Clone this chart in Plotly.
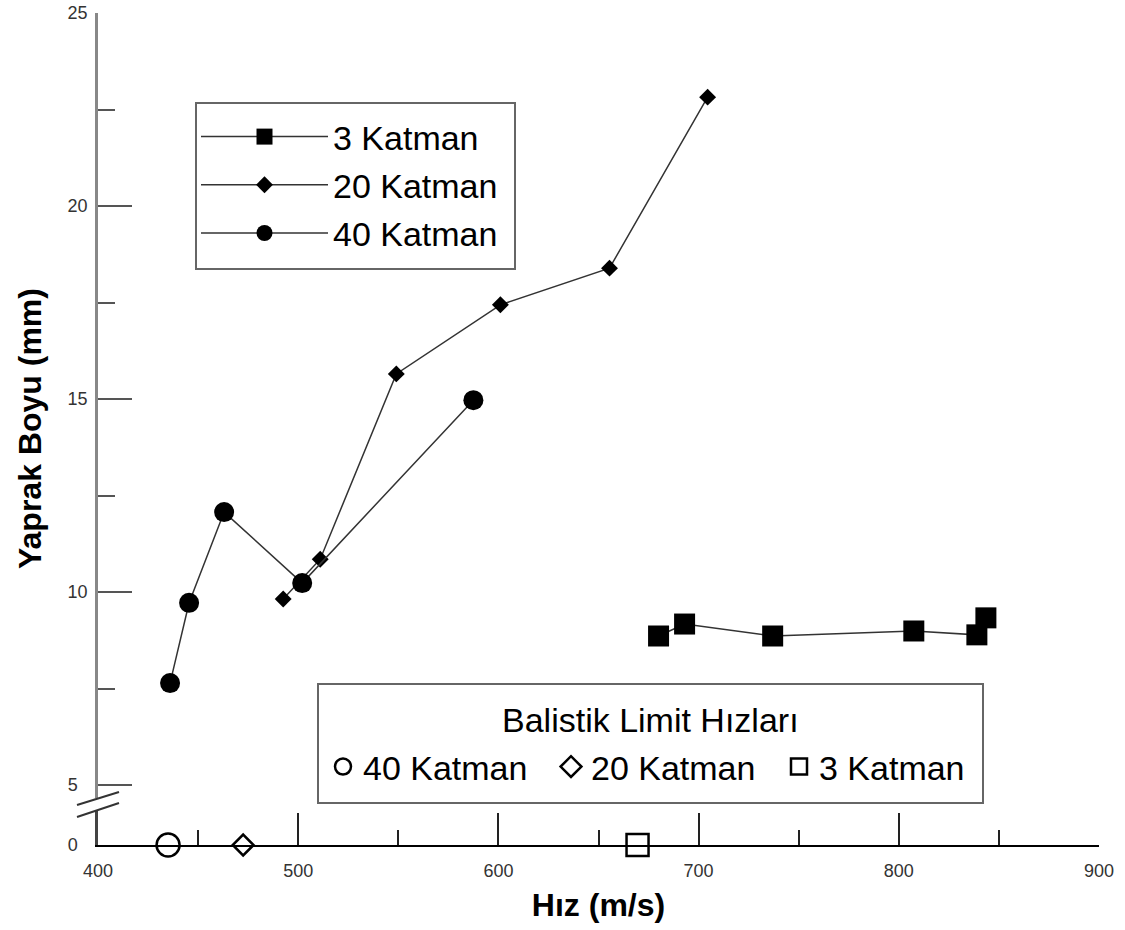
import plotly.graph_objects as go

# ---- data ----
x3 = [680, 693, 737, 807.5, 839, 843.5]
y3 = [8.86, 9.17, 8.86, 8.99, 8.89, 9.33]
x20 = [492.5, 511, 549, 601, 655.5, 704.5]
y20 = [9.82, 10.85, 15.65, 17.44, 18.39, 22.82]
x40 = [436, 445.5, 463, 502, 587.5]
y40 = [7.64, 9.72, 12.07, 10.23, 14.97]
bl_names = ["40 Katman", "20 Katman", "3 Katman"]
bl_x = [435, 472.5, 669.5]
bl_y = [0, 0, 0]
bl_symbols = ["circle-open", "diamond-open", "square-open"]
bl_sizes = [23, 16, 22]
bl_title = "Balistik Limit Hızları"

x_ticks = [400, 500, 600, 700, 800, 900]
x_minor = [450, 550, 650, 750, 850]
y_ticks = [5, 10, 15, 20, 25]
y_ticktext = ["5\u00a0\u00a0", "10", "15", "20", "25"]
y_minor = [7.5, 12.5, 17.5, 22.5]

# ---- layout geometry (reference pixels) ----
W, H = 1125, 930
REF_L, REF_R, REF_T, REF_B = 98, 1099, 13, 845   # plot-area edges
L, T = REF_L, REF_T
R, B = W - REF_R, H - REF_B
PW, PH = REF_R - REF_L, REF_B - REF_T


def px(xpix):
    return (xpix - REF_L) / PW


def py(ypix):
    return (REF_B - ypix) / PH


top_bottom_pix = 798
upp = 38.6  # pixels per unit on the upper axis
top_range = [25 - (top_bottom_pix - REF_T) / upp, 25.0001]
low_top_pix = 811

FONT = "Liberation Sans, Arial, sans-serif"
LINE_C = "#333333"

fig = go.Figure()

fig.add_trace(go.Scatter(
    x=x3, y=y3, name="3 Katman", mode="lines+markers",
    line=dict(color=LINE_C, width=1.5),
    marker=dict(symbol="square", size=21, color="black"),
    legend="legend", legendgroup="a", xaxis="x", yaxis="y"))
fig.add_trace(go.Scatter(
    x=x20, y=y20, name="20 Katman", mode="lines+markers",
    line=dict(color=LINE_C, width=1.5),
    marker=dict(symbol="diamond", size=13, color="black"),
    legend="legend", legendgroup="b", xaxis="x", yaxis="y"))
fig.add_trace(go.Scatter(
    x=x40, y=y40, name="40 Katman", mode="lines+markers",
    line=dict(color=LINE_C, width=1.5),
    marker=dict(symbol="circle", size=20, color="black"),
    legend="legend", legendgroup="c", xaxis="x", yaxis="y"))

for n, xv, yv, s, sz in zip(bl_names, bl_x, bl_y, bl_symbols, bl_sizes):
    fig.add_trace(go.Scatter(
        x=[xv], y=[yv], name=n, mode="markers",
        marker=dict(symbol=s, size=sz, color="black", line=dict(width=2.5, color="black")),
        cliponaxis=False, legend="legend2", xaxis="x", yaxis="y2"))

fig.update_layout(
    width=W, height=H,
    margin=dict(l=L, r=R, t=T, b=B, pad=0, autoexpand=False),
    paper_bgcolor="white", plot_bgcolor="white",
    font=dict(family=FONT, color="black"),
    showlegend=True,
    xaxis=dict(
        anchor="y2", range=[400, 900], domain=[0, 1], automargin=False,
        tickvals=x_ticks, ticks="inside", ticklen=32, tickwidth=1.5, tickcolor="#222",
        minor=dict(tickvals=x_minor, ticks="inside", ticklen=15, tickwidth=1.5, tickcolor="#222"),
        showline=True, linecolor="black", linewidth=2,
        showgrid=False, zeroline=False, ticklabeloverflow="allow",
        tickfont=dict(size=18, color="#333"), ticklabelstandoff=8,
        title=dict(text="Hız (m/s)", font=dict(size=32, weight="bold", color="black"), standoff=14),
    ),
    yaxis=dict(
        anchor="x", domain=[py(top_bottom_pix), 1], range=top_range, automargin=False,
        tickvals=y_ticks, ticktext=y_ticktext,
        ticks="inside", ticklen=34, tickwidth=1.5, tickcolor="#555",
        minor=dict(tickvals=y_minor, ticks="inside", ticklen=17, tickwidth=1.5, tickcolor="#555"),
        showline=True, linecolor="#888", linewidth=2.5,
        showgrid=False, zeroline=False, ticklabeloverflow="allow",
        tickfont=dict(size=18, color="#333"), ticklabelstandoff=4,
    ),
    yaxis2=dict(
        anchor="x", domain=[0, py(low_top_pix)], range=[0, 1], automargin=False,
        tickvals=[0], ticktext=["0\u00a0\u00a0"], ticks="",
        showline=True, linecolor="#444", linewidth=2.5,
        showgrid=False, zeroline=False, ticklabeloverflow="allow",
        tickfont=dict(size=18, color="#333"), ticklabelstandoff=4,
    ),
    legend=dict(
        x=px(196), y=py(108), xanchor="left", yanchor="top",
        borderwidth=0, bgcolor="rgba(0,0,0,0)",
        font=dict(size=34, color="black"), tracegroupgap=1, itemwidth=127,
    ),
    legend2=dict(
        orientation="h", x=px(323), y=py(738), xanchor="left", yanchor="top",
        borderwidth=0, bgcolor="rgba(0,0,0,0)",
        font=dict(size=34, color="black"), entrywidth=183,
    ),
    annotations=[
        dict(text="Yaprak Boyu (mm)", textangle=-90, xref="paper", yref="paper",
             x=px(30), y=py((REF_T + REF_B) / 2), xanchor="center", yanchor="middle", showarrow=False,
             font=dict(size=32, weight="bold", color="black")),
        dict(text=bl_title, xref="paper", yref="paper",
             x=px(650), y=py(720), xanchor="center", yanchor="middle", showarrow=False,
             font=dict(size=34, color="black")),
    ],
    shapes=[
        dict(type="rect", xref="paper", yref="paper", x0=px(196), y0=py(269), x1=px(515), y1=py(103),
             line=dict(color="#666", width=2), fillcolor="white", layer="above"),
        dict(type="rect", xref="paper", yref="paper", x0=px(318), y0=py(803), x1=px(983), y1=py(684),
             line=dict(color="#666", width=2), fillcolor="white", layer="above"),
        dict(type="line", xref="paper", yref="paper", x0=px(77), y0=py(805), x1=px(119), y1=py(792),
             line=dict(color="#333", width=2)),
        dict(type="line", xref="paper", yref="paper", x0=px(77), y0=py(817), x1=px(119), y1=py(803),
             line=dict(color="#333", width=2)),
    ],
)

# remove the browser's default 8px page margin so the figure sits at the window origin
fig.write_html("out.html", config={"displayModeBar": False},
               post_script="document.body.style.margin='0px';")
